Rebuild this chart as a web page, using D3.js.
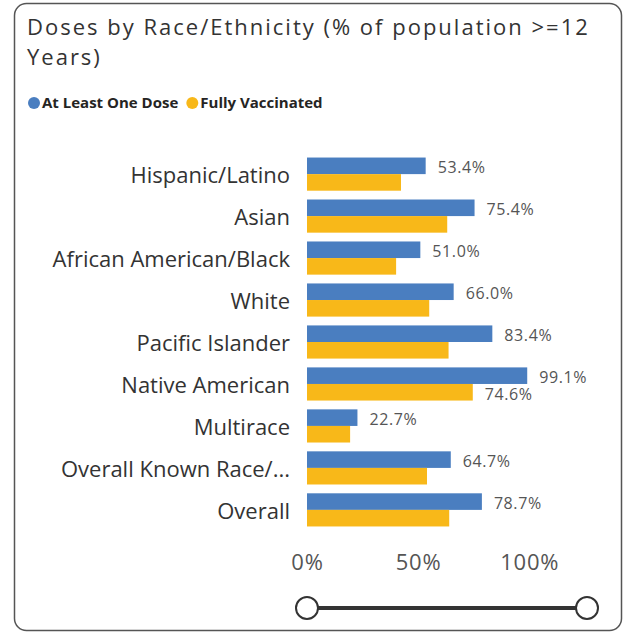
<!DOCTYPE html>
<html>
<head>
<meta charset="utf-8">
<script src="https://cdn.jsdelivr.net/npm/d3@7"></script>
<style>
  body { margin: 0; background: #fff; }
  text { font-family: "Open Sans", "Noto Sans", sans-serif; }
</style>
</head>
<body>
<div id="chart"></div>
<script>
// data
const categories = ["Hispanic/Latino", "Asian", "African American/Black", "White",
  "Pacific Islander", "Native American", "Multirace", "Overall Known Race/...", "Overall"];
const atLeastOne = [0.534, 0.754, 0.510, 0.660, 0.834, 0.991, 0.227, 0.647, 0.787];
const fullyVacc = [0.423, 0.631, 0.401, 0.550, 0.637, 0.746, 0.194, 0.540, 0.640];
// which fully vaccinated labels are shown in the original
const fullyLabelShown = [false, false, false, false, false, true, false, false, false];
const seriesNames = ["At Least One Dose", "Fully Vaccinated"];
const tickValues = [0, 0.5, 1];

const colors = ["#4a7ec0", "#f8b819"];
const width = 631, height = 634;

const svg = d3.select("#chart")
  .append("svg")
  .attr("width", width)
  .attr("height", height);

// card frame
svg.append("rect")
  .attr("x", 14.5).attr("y", 3.5)
  .attr("width", 607).attr("height", 627)
  .attr("rx", 12).attr("ry", 12)
  .attr("fill", "#fff")
  .attr("stroke", "#555")
  .attr("stroke-width", 1.5);

// title
const title = svg.append("text")
  .attr("x", 27).attr("y", 35)
  .attr("fill", "#333")
  .style("font-size", "22px")
  .style("letter-spacing", "2px");
title.append("tspan").attr("x", 27).text("Doses by Race/Ethnicity (% of population >=12");
title.append("tspan").attr("x", 27).attr("dy", 30).text("Years)");

// legend
const legend = svg.append("g").attr("transform", "translate(34,103)");
let lx = 0;
seriesNames.forEach((name, i) => {
  const g = legend.append("g").attr("transform", "translate(" + lx + ",0)");
  g.append("circle").attr("r", 6).attr("fill", colors[i]);
  const t = g.append("text")
    .attr("x", 8).attr("dy", "0.35em")
    .attr("fill", "#252423")
    .style("font-size", "15px")
    .style("font-weight", "bold")
    .text(name);
  lx += 8 + t.node().getComputedTextLength() + 14;
});

// scales
const x = d3.scaleLinear()
  .domain([0, 1.26])
  .range([307, 587]);

const y = d3.scaleBand()
  .domain(categories)
  .range([152.5, 531.5])
  .paddingInner(0.21)
  .paddingOuter(0.12);

const ySub = d3.scaleBand()
  .domain([0, 1])
  .range([0, y.bandwidth()]);

// category labels
svg.append("g")
  .selectAll("text")
  .data(categories)
  .join("text")
  .attr("x", 290)
  .attr("y", d => y(d) + y.bandwidth() / 2 + 1)
  .attr("dy", "0.35em")
  .attr("text-anchor", "end")
  .attr("fill", "#333")
  .style("font-size", "22px")
  .text(d => d);

// bars
const rows = categories.map((c, i) => ({cat: c, vals: [atLeastOne[i], fullyVacc[i]], showFull: fullyLabelShown[i]}));

const rowG = svg.append("g")
  .selectAll("g")
  .data(rows)
  .join("g")
  .attr("transform", d => "translate(0," + y(d.cat) + ")");

rowG.selectAll("rect")
  .data(d => d.vals)
  .join("rect")
  .attr("x", x(0))
  .attr("y", (v, i) => ySub(i))
  .attr("width", v => x(v) - x(0))
  .attr("height", ySub.bandwidth())
  .attr("fill", (v, i) => colors[i]);

// data labels
rowG.append("text")
  .attr("x", d => x(d.vals[0]) + 12)
  .attr("y", ySub(0) + ySub.bandwidth() / 2 + 2)
  .attr("dy", "0.35em")
  .attr("fill", "#555")
  .style("font-size", "16px")
  .style("letter-spacing", "0.6px")
  .text(d => d3.format(".1%")(d.vals[0]));

rowG.filter(d => d.showFull)
  .append("text")
  .attr("x", d => x(d.vals[1]) + 12)
  .attr("y", ySub(1) + ySub.bandwidth() / 2 + 2)
  .attr("dy", "0.35em")
  .attr("fill", "#555")
  .style("font-size", "16px")
  .style("letter-spacing", "0.6px")
  .text(d => d3.format(".1%")(d.vals[1]));

// x axis
const xAxis = d3.axisBottom(x)
  .tickValues(tickValues)
  .tickFormat(d3.format(".0%"))
  .tickSize(0);

const axisG = svg.append("g")
  .attr("transform", "translate(0,551)")
  .call(xAxis);
axisG.select(".domain").remove();
axisG.selectAll("text")
  .attr("fill", "#555")
  .style("font-size", "22px")
  .style("letter-spacing", "0.8px")
  .style("font-family", "'Open Sans', sans-serif");

// zoom slider
const slider = svg.append("g").attr("transform", "translate(0,608)");
slider.append("line")
  .attr("x1", x.range()[0]).attr("x2", x.range()[1])
  .attr("stroke", "#333")
  .attr("stroke-width", 4);
slider.selectAll("circle")
  .data(x.range())
  .join("circle")
  .attr("cx", d => d)
  .attr("r", 11)
  .attr("fill", "#fff")
  .attr("stroke", "#333")
  .attr("stroke-width", 2);
</script>
</body>
</html>
